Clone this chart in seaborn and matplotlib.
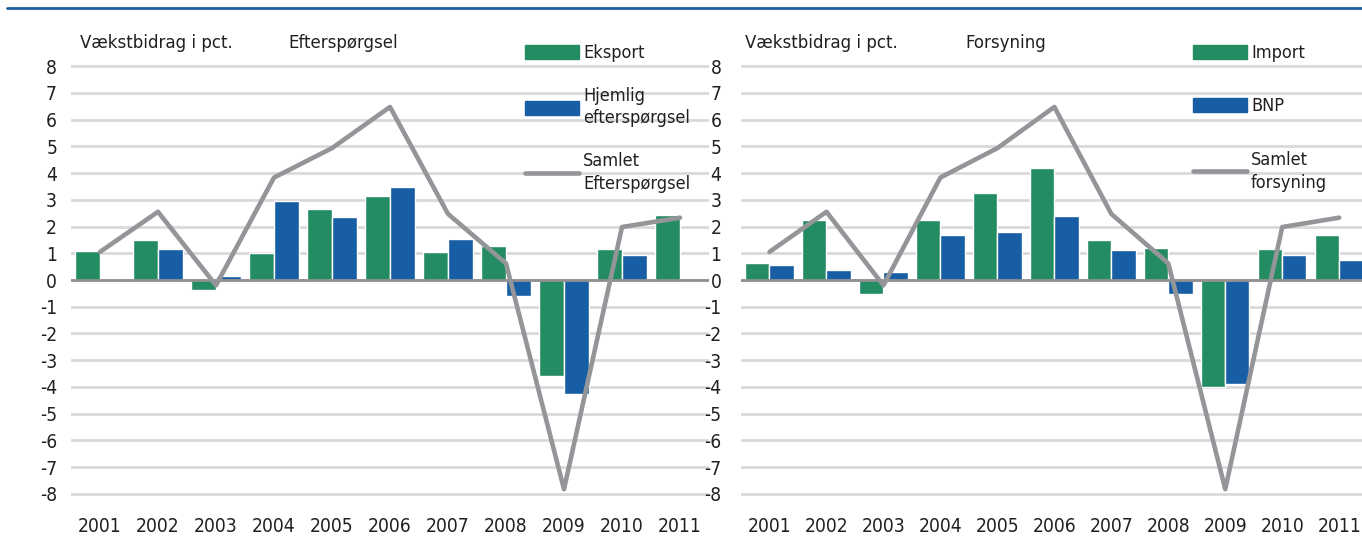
import numpy as np
import pandas as pd
import seaborn as sb
from matplotlib import pyplot as plt
from matplotlib.patches import Patch
from matplotlib.lines import Line2D

years = [str(y) for y in range(2001, 2012)]

# Efterspørgsel
eksport = [1.1, 1.48, -0.37, 1.0, 2.67, 3.15, 1.06, 1.27, -3.6, 1.15, 2.43]
hjemlig = [0.05, 1.15, 0.15, 2.96, 2.37, 3.46, 1.55, -0.6, -4.28, 0.94, -0.05]
# Forsyning
importen = [0.62, 2.25, -0.54, 2.25, 3.27, 4.18, 1.5, 1.2, -4.0, 1.15, 1.7]
bnp = [0.55, 0.37, 0.3, 1.68, 1.8, 2.4, 1.11, -0.54, -3.88, 0.94, 0.74]
# samlet (same line in both panels)
samlet = [1.05, 2.55, -0.2, 3.83, 4.93, 6.47, 2.47, 0.62, -7.82, 1.98, 2.33]

green = '#248c63'
blue = '#175ea5'
grey = '#939598'

sb.set_style('white')
plt.rcParams['font.family'] = ['DejaVu Sans']
plt.rcParams['font.stretch'] = 'condensed'
plt.rcParams['axes.unicode_minus'] = False
fs = 13.8

fig = plt.figure(figsize=(13.62, 5.38), dpi=100)
W, H = 1362, 538


def panel(left_px, right_px, xmax, s1, s2, n1, n2, n3, leg_px, spacing, ypad):
    ax = fig.add_axes([left_px / W, 1 - 498 / H,
                       (right_px - left_px) / W, (498 - 62) / H])
    df = pd.DataFrame({'år': years * 2,
                       'værdi': s1 + s2,
                       'serie': [n1] * 11 + [n2] * 11})
    ax.grid(axis='y', color='#d9d9d9', lw=2)
    ax.set_axisbelow(True)
    sb.barplot(data=df, x='år', y='værdi', hue='serie', palette=[green, blue],
               saturation=1, width=0.85, ax=ax, legend=False)
    ax.axhline(0, color='#8f8f8f', lw=2, zorder=2)
    sb.lineplot(x=np.arange(11), y=samlet, ax=ax, color=grey, lw=3.3, zorder=3)
    ax.set_xlim(-0.5, xmax)
    ax.set_ylim(-8.15, 8.15)
    ax.set_yticks(range(-8, 9))
    ax.set_xticks(range(11), labels=years)
    ax.set_xlabel('')
    ax.set_ylabel('')
    ax.tick_params(axis='y', labelsize=fs, pad=ypad, length=0, labelcolor='#231f20')
    ax.tick_params(axis='x', labelsize=fs, pad=14, length=0, labelcolor='#231f20')
    for sp in ax.spines.values():
        sp.set_visible(False)
    handles = [Patch(color=green), Patch(color=blue), Line2D([], [], color=grey, lw=3.3)]
    leg = ax.legend(handles, [n1, n2, n3], loc='upper left',
                    bbox_to_anchor=(leg_px / W, 1 - 37 / H), bbox_transform=fig.transFigure,
                    frameon=False, fontsize=13, handlelength=3.0, handleheight=0.85,
                    handletextpad=0.2, labelspacing=spacing, borderaxespad=0,
                    labelcolor='#231f20')
    for t in leg.get_texts():
        t.set_linespacing(1.35)
    return ax


panel(71, 709, 10.5, eksport, hjemlig, 'Eksport', 'Hjemlig\nefterspørgsel',
      'Samlet\nEfterspørgsel', 518, 1.35, 10)
panel(741, 1362, 10.4, importen, bnp, 'Import', 'BNP', 'Samlet\nforsyning', 1186, 1.95, 14)

for x, t in [(80, 'Vækstbidrag i pct.'), (288, 'Efterspørgsel'),
             (745, 'Vækstbidrag i pct.'), (965, 'Forsyning')]:
    fig.text(x / W, 1 - 43 / H, t, fontsize=13.3, va='center', color='#231f20')

fig.add_artist(Line2D([0.005, 1], [1 - 8 / H, 1 - 8 / H], color='#1a5fa0', lw=2))

fig.savefig('out.png', dpi=100)
